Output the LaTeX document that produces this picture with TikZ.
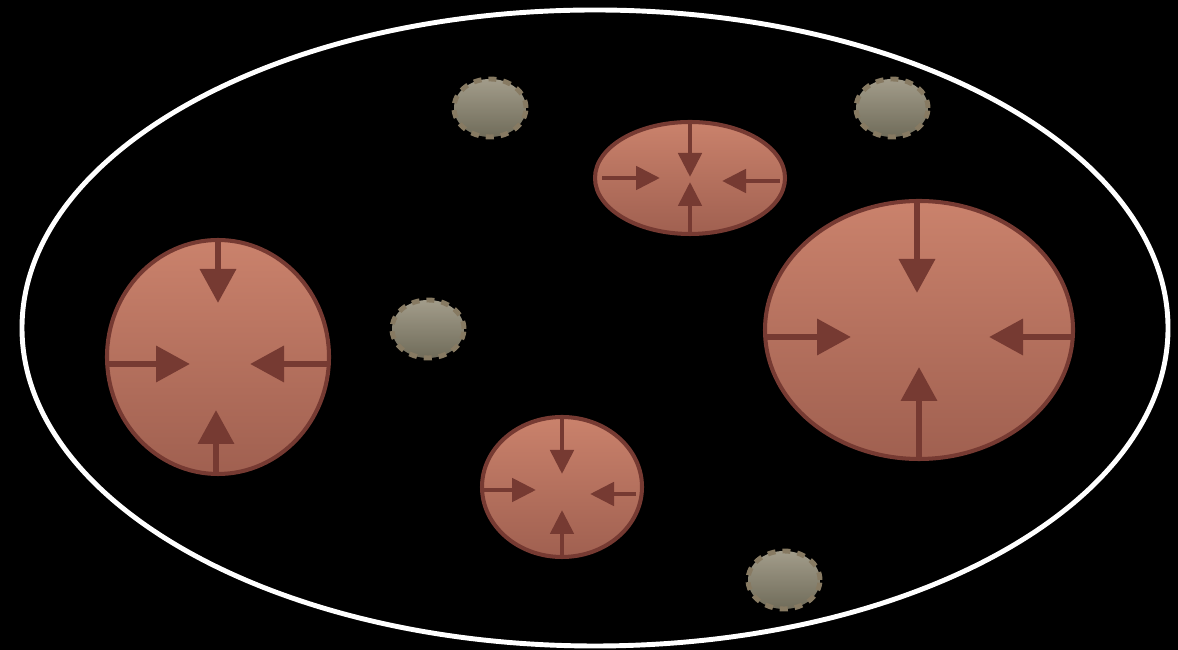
\documentclass[tikz,border=0pt]{standalone}
\usepackage{tikz}
\usetikzlibrary{arrows.meta}
\definecolor{blobtop}{RGB}{202,130,108}
\definecolor{blobbot}{RGB}{160,96,80}
\definecolor{blobedge}{RGB}{118,58,50}
\definecolor{graintop}{RGB}{162,156,138}
\definecolor{grainbot}{RGB}{112,108,90}
\definecolor{grainedge}{RGB}{135,122,98}
\tikzset{
  blob/.style={draw=blobedge, line width=2.3pt, top color=blobtop, bottom color=blobbot},
  grain/.style={draw=grainedge, line width=2.8pt, dash pattern=on 4.5pt off 4pt, top color=graintop, bottom color=grainbot},
  push/.style={blobedge, line width=3.8pt, -{Triangle[length=0.68cm,width=0.70cm]}},
  pushsmall/.style={blobedge, line width=2.8pt, -{Triangle[length=0.48cm,width=0.46cm]}},
}

\begin{document}
\begin{tikzpicture}
        \fill[black] (0,0) rectangle (23.56,13);
        \useasboundingbox (0,0) rectangle (23.56,13);
        % outer boundary
        \draw[white, line width=2.8pt] (11.90,6.44) ellipse (11.46 and 6.36);
        % small grains
        \foreach \p in {(9.80,10.84),(17.84,10.84),(8.56,6.42),(15.68,1.40)}{
            \shade[grain] \p ellipse (0.72 and 0.58);
        }
        % left bubble
        \shade[blob] (4.36,5.86) ellipse (2.22 and 2.34);
        \foreach \xa/\ya/\xb/\yb in {4.36/8.18/4.36/6.94, 4.32/3.52/4.32/4.80, 2.14/5.72/3.80/5.72, 6.58/5.72/5.00/5.72}{
            \draw[push] (\xa,\ya) -- (\xb,\yb);
        }
        % top bubble
        \shade[blob] (13.80,9.44) ellipse (1.90 and 1.12);
        \foreach \xa/\ya/\xb/\yb in {13.80/10.56/13.80/9.46, 13.80/8.32/13.80/9.36, 12.04/9.44/13.20/9.44, 15.60/9.38/14.44/9.38}{
            \draw[pushsmall] (\xa,\ya) -- (\xb,\yb);
        }
        % right bubble
        \shade[blob] (18.38,6.40) ellipse (3.08 and 2.58);
        \foreach \xa/\ya/\xb/\yb in {18.34/8.98/18.34/7.14, 18.38/3.82/18.38/5.66, 15.34/6.26/17.02/6.26, 21.46/6.26/19.78/6.26}{
            \draw[push] (\xa,\ya) -- (\xb,\yb);
        }
        % bottom bubble
        \shade[blob] (11.24,3.26) ellipse (1.60 and 1.40);
        \foreach \xa/\ya/\xb/\yb in {11.24/4.66/11.24/3.52, 11.24/1.86/11.24/2.80, 9.66/3.20/10.72/3.20, 12.72/3.12/11.80/3.12}{
            \draw[pushsmall] (\xa,\ya) -- (\xb,\yb);
        }
    \end{tikzpicture}
\end{document}
